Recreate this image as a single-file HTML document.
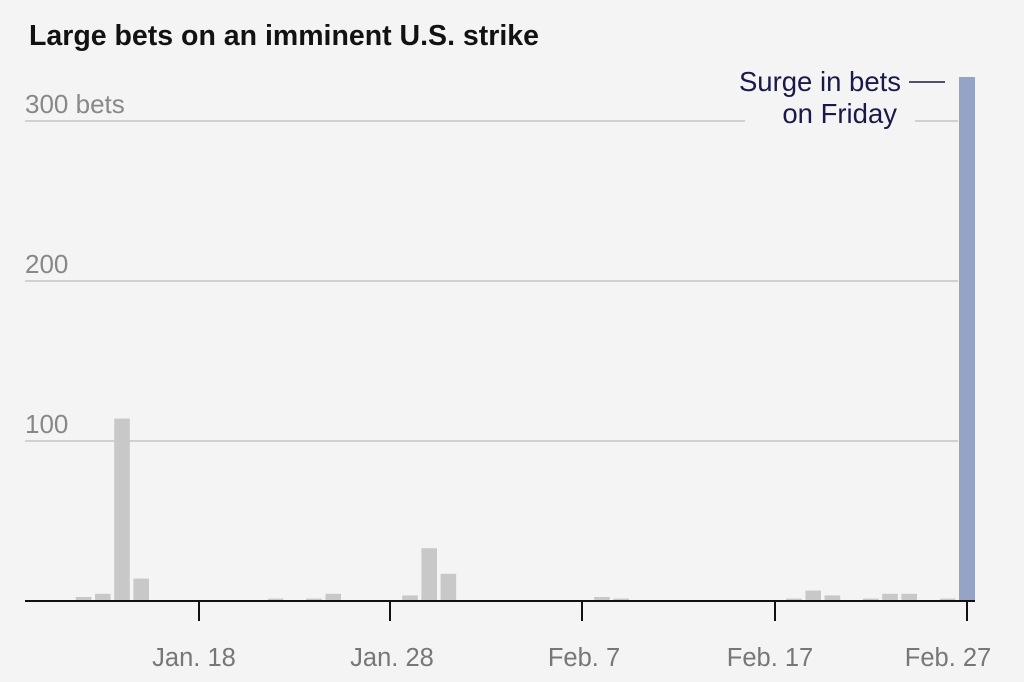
<!DOCTYPE html><html><head><style>body{margin:0;background:#f4f4f4}svg{display:block}text{font-family:"Liberation Sans",sans-serif}</style></head><body>
<svg width="1024" height="682" viewBox="0 0 1024 682">
<rect width="1024" height="682" fill="#f4f4f4"/>
<text x="29" y="45" font-size="28.5" font-weight="bold" fill="#121212">Large bets on an imminent U.S. strike</text>
<g stroke="#d0d0d0" stroke-width="2">
<line x1="25" y1="441" x2="958" y2="441"/><line x1="25" y1="281" x2="958" y2="281"/>
<line x1="25" y1="121" x2="745" y2="121"/><line x1="915" y1="121" x2="958" y2="121"/></g>
<g font-size="26" fill="#888">
<text x="25" y="113">300 bets</text><text x="25" y="273">200</text><text x="25" y="433">100</text></g>
<g fill="#c8c8c8">
<rect x="56.6" y="600" width="15.6" height="1"/>
<rect x="75.8" y="597" width="15.6" height="4"/>
<rect x="95" y="593.8" width="15.6" height="7.2"/>
<rect x="114.2" y="418.6" width="15.6" height="182.4"/>
<rect x="133.4" y="578.6" width="15.6" height="22.4"/>
<rect x="171.8" y="600" width="15.6" height="1"/>
<rect x="267.8" y="598.6" width="15.6" height="2.4"/>
<rect x="306.2" y="598.6" width="15.6" height="2.4"/>
<rect x="325.4" y="593.8" width="15.6" height="7.2"/>
<rect x="402.2" y="595.4" width="15.6" height="5.6"/>
<rect x="421.4" y="548.2" width="15.6" height="52.8"/>
<rect x="440.6" y="573.8" width="15.6" height="27.2"/>
<rect x="594.2" y="597" width="15.6" height="4"/>
<rect x="613.4" y="598.6" width="15.6" height="2.4"/>
<rect x="632.6" y="600" width="15.6" height="1"/>
<rect x="671" y="600" width="15.6" height="1"/>
<rect x="767" y="600" width="15.6" height="1"/>
<rect x="786.2" y="598.6" width="15.6" height="2.4"/>
<rect x="805.4" y="590.6" width="15.6" height="10.4"/>
<rect x="824.6" y="595.4" width="15.6" height="5.6"/>
<rect x="863" y="598.6" width="15.6" height="2.4"/>
<rect x="882.2" y="593.8" width="15.6" height="7.2"/>
<rect x="901.4" y="593.8" width="15.6" height="7.2"/>
<rect x="920.6" y="600" width="15.6" height="1"/>
<rect x="939.8" y="598.6" width="15.6" height="2.4"/>
</g>
<rect x="959" y="77" width="16" height="524" fill="#94a3c6"/>
<line x1="25" y1="601" x2="975" y2="601" stroke="#111" stroke-width="2"/>
<g stroke="#111" stroke-width="2">
<line x1="199" y1="601" x2="199" y2="621"/><line x1="390" y1="601" x2="390" y2="621"/><line x1="582" y1="601" x2="582" y2="621"/><line x1="775" y1="601" x2="775" y2="621"/><line x1="967" y1="601" x2="967" y2="621"/></g>
<g font-size="25.5" fill="#777" text-anchor="middle">
<text x="194" y="666">Jan. 18</text><text x="392" y="666">Jan. 28</text><text x="584" y="666">Feb. 7</text><text x="770" y="666">Feb. 17</text><text x="948" y="666">Feb. 27</text></g>
<g font-size="27.5" fill="#1a1a4a" text-anchor="end">
<text x="901" y="91">Surge in bets</text><text x="897" y="123">on Friday</text></g>
<line x1="909" y1="82" x2="945" y2="82" stroke="#1a1a4a" stroke-width="1.5"/>
</svg></body></html>
